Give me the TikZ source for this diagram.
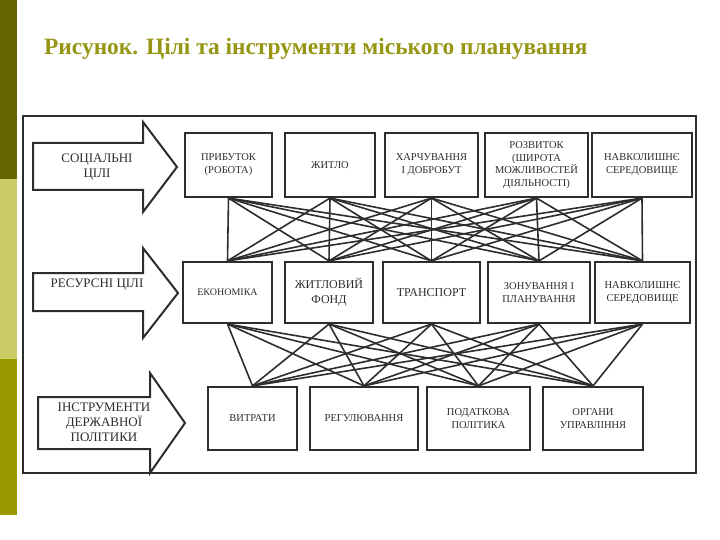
\documentclass[tikz,border=0pt]{standalone}
\usepackage{fontspec}
\setmainfont{Liberation Serif}
\definecolor{barDark}{RGB}{102,102,0}
\definecolor{barLight}{RGB}{204,204,102}
\definecolor{barMid}{RGB}{153,153,0}
\definecolor{titleC}{RGB}{150,150,20}
\definecolor{ink}{RGB}{45,45,45}
\tikzset{
  box/.style={draw=ink, line width=2.2pt, fill=white, inner sep=0pt, align=center,
    font=\fontsize{10.5}{13}\selectfont, text=ink},
  link/.style={draw=ink, line width=1.6pt},
  barrow/.style={draw=ink, line width=2pt, fill=white, line join=miter},
  arrowtext/.style={align=center, font=\fontsize{13}{15}\selectfont, text=ink},
  frame/.style={draw=ink, line width=2pt}
}
\begin{document}
\begin{tikzpicture}[x=1pt,y=-1pt]
\useasboundingbox (0,0) rectangle (720,540);
% left bar
\fill[barDark] (0,0) rectangle (17,179);
\fill[barLight] (0,179) rectangle (17,359);
\fill[barMid] (0,359) rectangle (17,515);
% title
\node[anchor=base west, text=titleC, font=\bfseries\fontsize{23.4}{27}\selectfont, inner sep=0pt] (title) at (44,55) {Рисунок. Цілі та інструменти міського планування};
% frame
\draw[frame] (23,116) rectangle (696,473);
% big arrows
\draw[barrow] (33,143) -- (143,143) -- (143,122) -- (177,167) -- (143,212) -- (143,190) -- (33,190) -- cycle;
\draw[barrow] (33,273) -- (143,273) -- (143,248) -- (178,293) -- (143,338) -- (143,311) -- (33,311) -- cycle;
\draw[barrow] (38,397) -- (150,397) -- (150,373) -- (185,423) -- (150,473) -- (150,449) -- (38,449) -- cycle;
\node[arrowtext] (a1) at (97,167) {СОЦІАЛЬНІ\\ЦІЛІ};
\node[arrowtext] (a2) at (97,285) {РЕСУРСНІ ЦІЛІ};
\node[arrowtext] (a3) at (104,422) {ІНСТРУМЕНТИ\\ДЕРЖАВНОЇ\\ПОЛІТИКИ};
% top row
\node[box, minimum width=87pt, minimum height=64pt] (t1) at (228.5,165) {ПРИБУТОК\\(РОБОТА)};
\node[box, minimum width=90pt, minimum height=64pt] (t2) at (330,165) {ЖИТЛО};
\node[box, minimum width=93pt, minimum height=64pt] (t3) at (431.5,165) {ХАРЧУВАННЯ\\І ДОБРОБУТ};
\node[box, minimum width=103pt, minimum height=64pt, font=\fontsize{10.5}{12.5}\selectfont] (t4) at (536.5,165) {РОЗВИТОК\\(ШИРОТА\\МОЖЛИВОСТЕЙ\\ДІЯЛЬНОСТІ)};
\node[box, minimum width=100pt, minimum height=64pt] (t5) at (642,165) {НАВКОЛИШНЄ\\СЕРЕДОВИЩЕ};
% middle row
\node[box, minimum width=89pt, minimum height=61pt, font=\fontsize{10}{12}\selectfont] (m1) at (227.5,292.5) {ЕКОНОМІКА};
\node[box, minimum width=88pt, minimum height=61pt, font=\fontsize{12}{15}\selectfont] (m2) at (329,292.5) {ЖИТЛОВИЙ\\ФОНД};
\node[box, minimum width=97pt, minimum height=61pt, font=\fontsize{12}{15}\selectfont] (m3) at (431.5,292.5) {ТРАНСПОРТ};
\node[box, minimum width=102pt, minimum height=61pt] (m4) at (539,292.5) {ЗОНУВАННЯ І\\ПЛАНУВАННЯ};
\node[box, minimum width=95pt, minimum height=61pt] (m5) at (642.5,292.5) {НАВКОЛИШНЄ\\СЕРЕДОВИЩЕ};
% bottom row
\node[box, minimum width=89pt, minimum height=63pt] (b1) at (252.5,418.5) {ВИТРАТИ};
\node[box, minimum width=108pt, minimum height=63pt] (b2) at (364,418.5) {РЕГУЛЮВАННЯ};
\node[box, minimum width=103pt, minimum height=63pt] (b3) at (478.5,418.5) {ПОДАТКОВА\\ПОЛІТИКА};
\node[box, minimum width=100pt, minimum height=63pt] (b4) at (593,418.5) {ОРГАНИ\\УПРАВЛІННЯ};
% connectors
\foreach \i in {1,...,5}{
  \foreach \j in {1,...,5}{
    \draw[link] (t\i.south) -- (m\j.north);
  }
  \foreach \j in {1,...,4}{
    \draw[link] (m\i.south) -- (b\j.north);
  }
}
\end{tikzpicture}
\end{document}
